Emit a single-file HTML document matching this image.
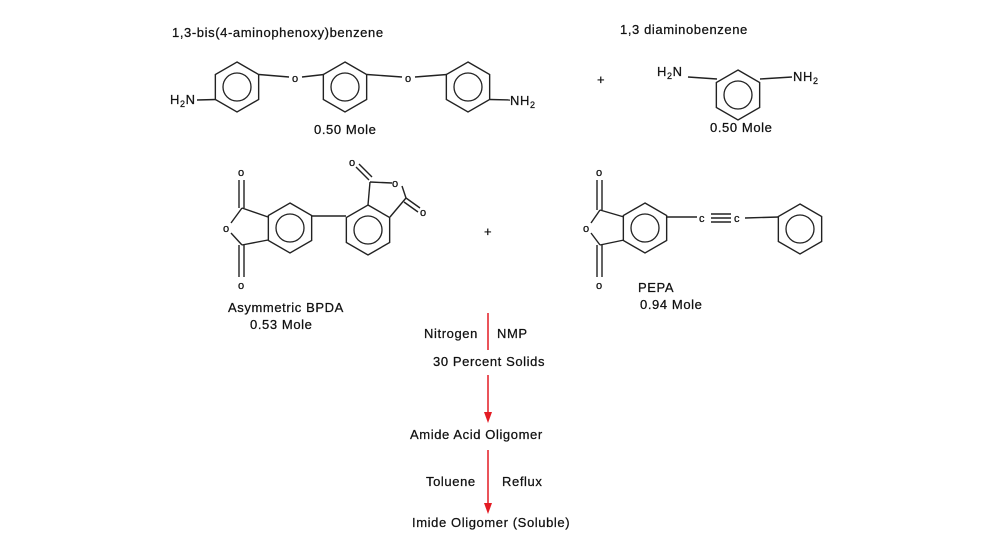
<!DOCTYPE html>
<html><head><meta charset="utf-8"><style>
html,body{margin:0;padding:0;background:#fff}
svg{display:block}
text{font-family:"Liberation Sans",sans-serif;font-size:13px;fill:#111;letter-spacing:0.6px;stroke:#111;stroke-width:0.25px}
text.a{font-size:11px;letter-spacing:0}
</style></head><body>
<svg width="1000" height="547" viewBox="0 0 1000 547" xmlns="http://www.w3.org/2000/svg">
<defs>
<g id="hex"><polygon points="0,-25 21.65,-12.5 21.65,12.5 0,25 -21.65,12.5 -21.65,-12.5" fill="none" stroke="#222" stroke-width="1.4"/><circle r="14" fill="none" stroke="#222" stroke-width="1.3"/></g>
</defs>
<g stroke="#222" stroke-width="1.4" fill="none">
<line x1="197" y1="100" x2="216" y2="99.5"/>
<line x1="259" y1="74.5" x2="289" y2="77"/>
<line x1="302" y1="77" x2="324" y2="74.5"/>
<line x1="367" y1="74.5" x2="402" y2="77"/>
<line x1="415" y1="77" x2="447" y2="74.5"/>
<line x1="490" y1="99.5" x2="510" y2="100"/>
<line x1="688" y1="77" x2="717" y2="79"/>
<line x1="760" y1="79" x2="792" y2="77"/>
<line x1="242" y1="208" x2="268" y2="217"/>
<line x1="242" y1="245" x2="268" y2="240"/>
<line x1="239" y1="180" x2="239" y2="208"/><line x1="244" y1="180" x2="244" y2="208"/>
<line x1="239" y1="245" x2="239" y2="277"/><line x1="244" y1="245" x2="244" y2="277"/>
<line x1="242" y1="208" x2="231" y2="223"/><line x1="242" y1="245" x2="231" y2="233"/>
<line x1="312" y1="216" x2="346" y2="216"/>
<line x1="368" y1="205" x2="370" y2="182"/>
<line x1="390" y1="217" x2="406" y2="198"/>
<line x1="370" y1="182" x2="392" y2="183"/>
<line x1="402" y1="186" x2="406" y2="198"/>
<line x1="369" y1="180" x2="356" y2="167"/><line x1="372" y1="177" x2="359" y2="164"/>
<line x1="406" y1="198" x2="420" y2="208"/><line x1="404" y1="202" x2="418" y2="212"/>
<line x1="600" y1="210" x2="624" y2="217"/>
<line x1="600" y1="245" x2="624" y2="240"/>
<line x1="597" y1="180" x2="597" y2="210"/><line x1="602" y1="180" x2="602" y2="210"/>
<line x1="597" y1="245" x2="597" y2="277"/><line x1="602" y1="245" x2="602" y2="277"/>
<line x1="600" y1="210" x2="591" y2="223"/><line x1="600" y1="245" x2="591" y2="233"/>
<line x1="667" y1="217" x2="697" y2="217"/>
<line x1="711" y1="214" x2="731" y2="214"/><line x1="711" y1="218" x2="731" y2="218"/><line x1="711" y1="222" x2="731" y2="222"/>
<line x1="745" y1="218" x2="779" y2="217"/>
</g>
<use href="#hex" x="237" y="87"/>
<use href="#hex" x="345" y="87"/>
<use href="#hex" x="468" y="87"/>
<use href="#hex" x="738" y="95"/>
<use href="#hex" x="290" y="228"/>
<use href="#hex" x="368" y="230"/>
<use href="#hex" x="645" y="228"/>
<use href="#hex" x="800" y="229"/>
<text x="172" y="37">1,3-bis(4-aminophenoxy)benzene</text>
<text x="170" y="104">H<tspan font-size="9" dy="3">2</tspan><tspan dy="-3">N</tspan></text>
<text class="a" x="292" y="82">o</text>
<text class="a" x="405" y="82">o</text>
<text x="510" y="105">NH<tspan font-size="9" dy="3">2</tspan></text>
<text x="314" y="134">0.50 Mole</text>
<text x="597" y="84">+</text>
<text x="620" y="34">1,3 diaminobenzene</text>
<text x="657" y="76">H<tspan font-size="9" dy="3">2</tspan><tspan dy="-3">N</tspan></text>
<text x="793" y="81">NH<tspan font-size="9" dy="3">2</tspan></text>
<text x="710" y="132">0.50 Mole</text>
<text class="a" x="238" y="176">o</text>
<text class="a" x="223" y="232">o</text>
<text class="a" x="238" y="289">o</text>
<text class="a" x="349" y="166">o</text>
<text class="a" x="392" y="187">o</text>
<text class="a" x="420" y="216">o</text>
<text x="228" y="312">Asymmetric BPDA</text>
<text x="250" y="329">0.53 Mole</text>
<text x="484" y="236">+</text>
<text class="a" x="596" y="176">o</text>
<text class="a" x="583" y="232">o</text>
<text class="a" x="596" y="289">o</text>
<text class="a" x="699" y="222">c</text>
<text class="a" x="734" y="222">c</text>
<text x="638" y="292">PEPA</text>
<text x="640" y="309">0.94 Mole</text>
<g stroke="#e31b23" stroke-width="1.5">
<line x1="488" y1="313" x2="488" y2="350"/>
<line x1="488" y1="375" x2="488" y2="414"/>
<line x1="488" y1="450" x2="488" y2="505"/>
</g>
<polygon points="484,412 492,412 488,423" fill="#e31b23"/>
<polygon points="484,503 492,503 488,514" fill="#e31b23"/>
<text x="424" y="338">Nitrogen</text>
<text x="497" y="338">NMP</text>
<text x="433" y="366">30 Percent Solids</text>
<text x="410" y="439">Amide Acid Oligomer</text>
<text x="426" y="486">Toluene</text>
<text x="502" y="486">Reflux</text>
<text x="412" y="527">Imide Oligomer (Soluble)</text>
</svg>
</body></html>
